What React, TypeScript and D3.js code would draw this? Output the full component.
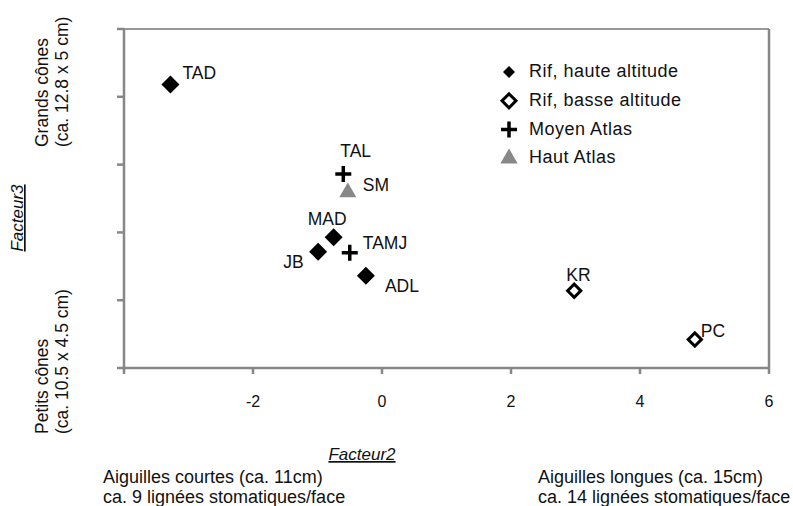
import React from 'react';
import * as d3 from 'd3';

// site scores on factors 2 and 3
const siteNames = ['TAD', 'TAL', 'SM', 'MAD', 'JB', 'TAMJ', 'ADL', 'KR', 'PC'];
const siteGroups = ['rifHaute', 'moyenAtlas', 'hautAtlas', 'rifHaute', 'rifHaute', 'moyenAtlas', 'rifHaute', 'rifBasse', 'rifBasse'];
const facteur2 = [-3.28, -0.6, -0.53, -0.75, -0.99, -0.5, -0.25, 2.98, 4.85];
const facteur3 = [2.18, 0.86, 0.59, -0.07, -0.285, -0.3, -0.64, -0.86, -1.58];

const groupKeys = ['rifHaute', 'rifBasse', 'moyenAtlas', 'hautAtlas'];
const groupLabels = ['Rif, haute altitude', 'Rif, basse altitude', 'Moyen Atlas', 'Haut Atlas'];

const xTickValues = [-4, -2, 0, 2, 4, 6];
const xTickLabels = ['', '-2', '0', '2', '4', '6'];
const yTickValues = [-2, -1, 0, 1, 2, 3];

// label placement relative to the marker (dx, dy)
const labelOffsets: { [k: string]: [number, number] } = {
  TAD: [12, -6],
  TAL: [-3, -17],
  SM: [15, -1],
  MAD: [-26, -12],
  JB: [-35, 16],
  TAMJ: [13, -4],
  ADL: [19, 16],
  KR: [-8, -10],
  PC: [6, -3],
};

const FONT = '"Liberation Sans", Arial, sans-serif';
const AXIS = '#878787';

function Marker({ group, x, y, small }: { group: string; x: number; y: number; small?: boolean }) {
  if (group === 'rifHaute') {
    const r = small ? 6 : 9;
    const sq = d3.symbol().type(d3.symbolSquare).size(2 * r * r)();
    return <path d={sq!} transform={`translate(${x},${y}) rotate(45)`} fill="#000" />;
  }
  if (group === 'rifBasse') {
    const r = small ? 7 : 6.6;
    const sq = d3.symbol().type(d3.symbolSquare).size(2 * r * r)();
    return <path d={sq!} transform={`translate(${x},${y}) rotate(45)`} fill="#fff" stroke="#000" strokeWidth={3} />;
  }
  if (group === 'moyenAtlas') {
    const a = 8;
    return (
      <path
        d={`M${x - a},${y}H${x + a}M${x},${y - a}V${y + a}`}
        stroke="#000"
        strokeWidth={3.5}
      />
    );
  }
  const tri = d3.symbol().type(d3.symbolTriangle).size(small ? 130 : 125)();
  return <path d={tri!} transform={`translate(${x},${y})`} fill="#888888" />;
}

export default function App() {
  const width = 793;
  const height = 506;
  const left = 124;
  const right = 769;
  const top = 29;
  const bottom = 368;

  const x = d3.scaleLinear().domain([-4, 6]).range([left, right]);
  const y = d3.scaleLinear().domain([-2, 3]).range([bottom, top]);

  return (
    <svg
      width={width}
      height={height}
      style={{ position: 'absolute', left: 0, top: 0, background: '#fff' }}
      fontFamily={FONT}
    >
      <rect width={width} height={height} fill="#fff" />

      {/* frame */}
      <line x1={left} x2={right} y1={top} y2={top} stroke="#999" strokeWidth={2} />
      <line x1={right} x2={right} y1={top} y2={bottom} stroke={AXIS} strokeWidth={2.5} />
      <line x1={left} x2={right + 1} y1={bottom} y2={bottom} stroke={AXIS} strokeWidth={2.5} />
      <line x1={left} x2={left} y1={top - 1} y2={bottom + 1} stroke={AXIS} strokeWidth={2.5} />

      {/* y ticks */}
      {yTickValues.map(v => (
        <line key={'y' + v} x1={left - 7} x2={left} y1={y(v)} y2={y(v)} stroke={AXIS} strokeWidth={2.5} />
      ))}

      {/* x ticks and labels */}
      {xTickValues.map((v, i) => (
        <g key={'x' + v}>
          <line x1={x(v)} x2={x(v)} y1={bottom} y2={bottom + 6} stroke={AXIS} strokeWidth={2.5} />
          <text x={x(v)} y={bottom + 39} textAnchor="middle" fontSize={16} fill="#111">
            {xTickLabels[i]}
          </text>
        </g>
      ))}

      {/* points */}
      {siteNames.map((name, i) => {
        const px = x(facteur2[i]);
        const py = y(facteur3[i]);
        const [dx, dy] = labelOffsets[name];
        return (
          <g key={name}>
            <Marker group={siteGroups[i]} x={px} y={py} />
            <text x={px + dx} y={py + dy} fontSize={17.5} fill="#111">
              {name}
            </text>
          </g>
        );
      })}

      {/* legend */}
      {groupKeys.map((g, i) => {
        const ly = 77 + i * 28.8;
        return (
          <g key={g}>
            <Marker group={g} x={509} y={ly - 5} small />
            <text x={529} y={ly} fontSize={18} letterSpacing={0.5} fill="#111">
              {groupLabels[i]}
            </text>
          </g>
        );
      })}

      {/* axis titles */}
      <text
        x={362}
        y={460}
        textAnchor="middle"
        fontSize={17}
        fontStyle="italic"
        fill="#111"
        style={{ textDecoration: 'underline' }}
      >
        Facteur2
      </text>
      <text
        transform="translate(23,218) rotate(-90)"
        textAnchor="middle"
        fontSize={17}
        fontStyle="italic"
        fill="#111"
        style={{ textDecoration: 'underline' }}
      >
        Facteur3
      </text>

      {/* y axis annotations */}
      <g fontSize={17.5} fill="#111">
        <text transform="translate(48,147) rotate(-90)">Grands cônes</text>
        <text transform="translate(68,147) rotate(-90)">(ca. 12.8 x 5 cm)</text>
        <text transform="translate(48,434) rotate(-90)">Petits cônes</text>
        <text transform="translate(68,434) rotate(-90)">(ca. 10.5 x 4.5 cm)</text>
      </g>

      {/* x axis annotations */}
      <g fontSize={18} fill="#111">
        <text x={103} y={483}>Aiguilles courtes (ca. 11cm)</text>
        <text x={103} y={503}>ca. 9 lignées stomatiques/face</text>
        <text x={538} y={483}>Aiguilles longues (ca. 15cm)</text>
        <text x={538} y={503}>ca. 14 lignées stomatiques/face</text>
      </g>
    </svg>
  );
}
